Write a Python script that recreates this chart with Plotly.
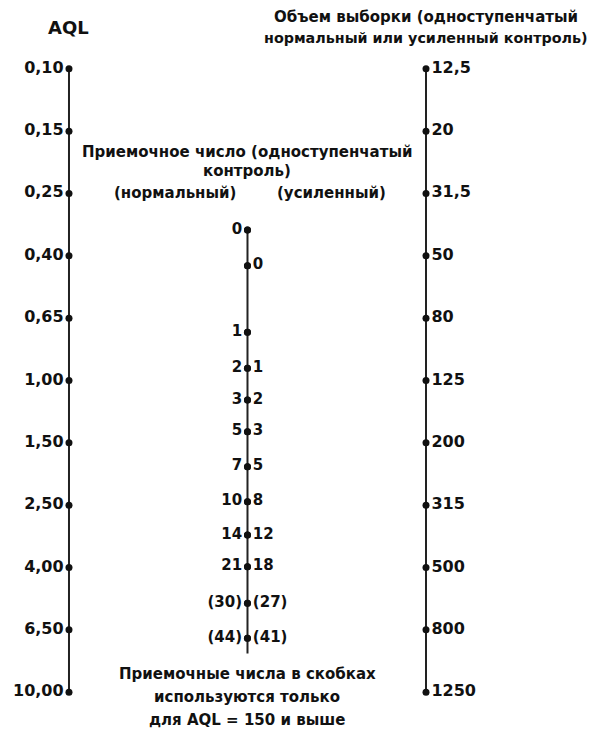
import plotly.graph_objects as go

# ---- data ----
aql_labels = ["0,10", "0,15", "0,25", "0,40", "0,65", "1,00", "1,50", "2,50", "4,00", "6,50", "10,00"]
sample_size_labels = ["12,5", "20", "31,5", "50", "80", "125", "200", "315", "500", "800", "1250"]

# acceptance-number scale (middle), position in units of the outer scale steps
acc_scale_pos = [2.586, 3.158, 4.227, 4.804, 5.313, 5.821, 6.383, 6.944, 7.479, 7.987, 8.574, 9.135]
acc_normal = ["0", "", "1", "2", "3", "5", "7", "10", "14", "21", "(30)", "(44)"]
acc_tightened = ["", "0", "", "1", "2", "3", "5", "8", "12", "18", "(27)", "(41)"]
acc_scale_end = 9.38

# column positions of the three scales
col_aql, col_acc, col_n = 0.0, 1.0, 2.0

FONT = "DejaVu Sans"
INK = "#111111"
LINE = "#222222"

outer_pos = list(range(len(aql_labels)))

fig = go.Figure()

# scale lines
fig.add_trace(go.Scatter(x=[col_aql, col_aql], y=[outer_pos[0], outer_pos[-1]], mode="lines",
                         line=dict(color=LINE, width=2), hoverinfo="skip"))
fig.add_trace(go.Scatter(x=[col_n, col_n], y=[outer_pos[0], outer_pos[-1]], mode="lines",
                         line=dict(color=LINE, width=2), hoverinfo="skip"))
fig.add_trace(go.Scatter(x=[col_acc, col_acc], y=[acc_scale_pos[0], acc_scale_end], mode="lines",
                         line=dict(color=LINE, width=2), hoverinfo="skip"))

tick_font = dict(family=FONT, size=16, color=INK, weight=700)
mid_font = dict(family=FONT, size=15, color=INK, weight=700)
mk = dict(size=7, color=INK)

# AQL scale
fig.add_trace(go.Scatter(x=[col_aql] * len(aql_labels), y=outer_pos, mode="markers+text",
                         text=aql_labels, textposition="middle left", marker=mk,
                         textfont=tick_font))
# sample size scale
fig.add_trace(go.Scatter(x=[col_n] * len(sample_size_labels), y=outer_pos, mode="markers+text",
                         text=sample_size_labels, textposition="middle right", marker=mk,
                         textfont=tick_font))
# acceptance number scale
fig.add_trace(go.Scatter(x=[col_acc] * len(acc_scale_pos), y=acc_scale_pos, mode="markers+text",
                         text=acc_normal, textposition="middle left", marker=mk,
                         textfont=mid_font))
fig.add_trace(go.Scatter(x=[col_acc] * len(acc_scale_pos), y=acc_scale_pos, mode="markers+text",
                         text=acc_tightened, textposition="middle right", marker=mk,
                         textfont=mid_font))

W, H = 587.0, 741.0   # page body has an 8px margin
OFF = 8.0
def py(px):
    return 1 - (px - OFF) / H

ann_font = dict(family=FONT, size=15, color=INK, weight=700)
ann_font_sm = dict(family=FONT, size=14.3, color=INK, weight=700)
anns = [
    ("AQL", col_aql, 27.5, dict(family=FONT, size=18, color=INK, weight=700)),
    ("Объем выборки (одноступенчатый", col_n, 17.5, ann_font),
    ("нормальный или усиленный контроль)", col_n, 38, ann_font_sm),
    ("Приемочное число (одноступенчатый", col_acc, 152, ann_font),
    ("контроль)", col_acc, 171, ann_font),
    ("(нормальный)", 0.594, 193, ann_font),
    ("(усиленный)", 1.468, 193, ann_font),
    ("Приемочные числа в скобках", col_acc, 674, ann_font),
    ("используются только", col_acc, 697, ann_font),
    ("для AQL = 150 и выше", col_acc, 720, ann_font),
]
for t, x, ypx, f in anns:
    fig.add_annotation(x=x, xref="x", y=py(ypx), yref="paper", text=t, showarrow=False,
                       font=f, xanchor="center", yanchor="middle")

fig.update_layout(
    width=int(W), height=int(H),
    margin=dict(l=0, r=0, t=0, b=0),
    paper_bgcolor="white", plot_bgcolor="white",
    showlegend=False,
    xaxis=dict(visible=False, range=[-0.3417, 2.9468], fixedrange=True),
    yaxis=dict(visible=False, range=[10.911, -0.9753], fixedrange=True),
)

fig.write_html("out.html")
